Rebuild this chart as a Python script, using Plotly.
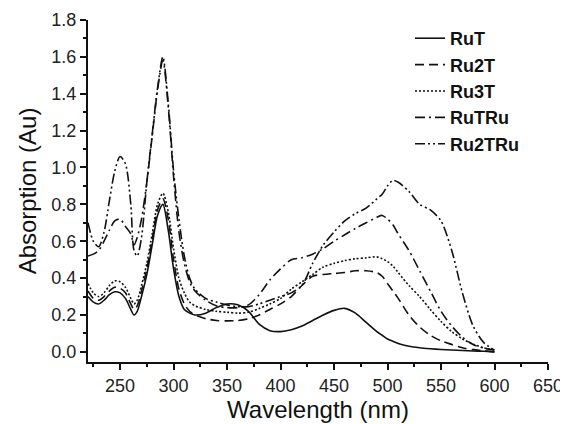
import plotly.graph_objects as go

wavelength = [220, 225, 230, 235, 240, 245, 250, 255, 260, 263, 266, 270, 275, 280, 285,
              290, 295, 300, 305, 310, 315, 320, 330, 340, 350, 360, 370, 380, 390, 400,
              410, 420, 430, 440, 450, 460, 470, 480, 490, 495, 500, 505, 510, 520, 530,
              540, 550, 560, 570, 580, 590, 600]

ruT = [0.30, 0.27, 0.26, 0.28, 0.31, 0.326, 0.32, 0.29, 0.23, 0.20, 0.22, 0.30, 0.42, 0.58, 0.74,
       0.80, 0.66, 0.45, 0.30, 0.23, 0.21, 0.20, 0.21, 0.24, 0.26, 0.255, 0.22, 0.15, 0.115, 0.11,
       0.12, 0.14, 0.17, 0.20, 0.225, 0.236, 0.21, 0.16, 0.11, 0.09, 0.07, 0.057, 0.045, 0.03, 0.022,
       0.017, 0.013, 0.01, 0.007, 0.005, 0.003, 0.0]

ru2T = [0.33, 0.29, 0.28, 0.30, 0.33, 0.35, 0.345, 0.32, 0.26, 0.23, 0.25, 0.33, 0.45, 0.61, 0.77,
        0.83, 0.72, 0.50, 0.34, 0.26, 0.22, 0.20, 0.18, 0.17, 0.168, 0.17, 0.18, 0.20, 0.23, 0.26,
        0.30, 0.36, 0.41, 0.42, 0.425, 0.43, 0.44, 0.44, 0.43, 0.41, 0.37, 0.33, 0.29, 0.20, 0.135,
        0.09, 0.06, 0.04, 0.022, 0.012, 0.006, 0.0]

ru3T = [0.37, 0.32, 0.30, 0.32, 0.36, 0.385, 0.38, 0.35, 0.29, 0.26, 0.28, 0.36, 0.48, 0.64, 0.80,
        0.86, 0.76, 0.56, 0.40, 0.32, 0.27, 0.25, 0.23, 0.22, 0.215, 0.21, 0.215, 0.235, 0.26, 0.29,
        0.34, 0.38, 0.42, 0.46, 0.48, 0.495, 0.505, 0.51, 0.515, 0.505, 0.49, 0.465, 0.43, 0.36, 0.30,
        0.23, 0.165, 0.11, 0.07, 0.042, 0.022, 0.01]

ruTRu = [0.52, 0.53, 0.55, 0.60, 0.66, 0.71, 0.72, 0.68, 0.64, 0.58, 0.62, 0.72, 0.92, 1.17, 1.42,
         1.58, 1.33, 0.95, 0.65, 0.48, 0.38, 0.33, 0.28, 0.25, 0.24, 0.24, 0.255, 0.31, 0.39, 0.45,
         0.50, 0.51, 0.53, 0.56, 0.60, 0.635, 0.67, 0.70, 0.73, 0.74, 0.72, 0.69, 0.64, 0.55, 0.44,
         0.33, 0.22, 0.14, 0.08, 0.04, 0.02, 0.01]

ru2TRu = [0.70, 0.60, 0.57, 0.65, 0.82, 0.98, 1.06, 1.02, 0.80, 0.55, 0.52, 0.62, 0.92, 1.18, 1.43,
          1.60, 1.35, 0.98, 0.72, 0.52, 0.40, 0.34, 0.29, 0.27, 0.255, 0.245, 0.245, 0.26, 0.28, 0.30,
          0.32, 0.36, 0.48, 0.58, 0.65, 0.71, 0.75, 0.78, 0.83, 0.855, 0.90, 0.93, 0.92, 0.87, 0.80,
          0.77, 0.71, 0.55, 0.32, 0.14, 0.05, 0.01]

series_names = ["RuT", "Ru2T", "Ru3T", "RuTRu", "Ru2TRu"]
series_values = [ruT, ru2T, ru3T, ruTRu, ru2TRu]
dash_styles = ["solid", "9px,5px", "2px,2px", "10px,4px,2px,4px", "10px,3px,2px,3px,2px,3px"]

x_ticks = [250, 300, 350, 400, 450, 500, 550, 600, 650]
y_ticks = [0.0, 0.2, 0.4, 0.6, 0.8, 1.0, 1.2, 1.4, 1.6, 1.8]

fig = go.Figure()
for name, vals, dash in zip(series_names, series_values, dash_styles):
    fig.add_trace(go.Scatter(
        x=wavelength, y=vals, name=name, mode="lines",
        line=dict(color="#111111", width=1.6, dash=dash, shape="spline", smoothing=0.8),
    ))

FAM = "Liberation Sans, Arial, sans-serif"
tick_font = dict(family=FAM, size=18, color="#222222")
title_font = dict(family=FAM, size=24, color="#111111")
# the page body adds an 8px margin, so the figure is 8px smaller on each axis
fig.update_layout(
    width=560, height=416,
    margin=dict(l=80, r=20, t=12, b=62),
    paper_bgcolor="white", plot_bgcolor="white",
    showlegend=True,
    legend=dict(x=0.70, y=1.0, xanchor="left", yanchor="top",
                bgcolor="rgba(0,0,0,0)",
                font=dict(family=FAM, size=18, color="#111111", weight="bold"),
                tracegroupgap=0),
    font=tick_font,
)
fig.update_xaxes(
    range=[220, 650], tickvals=x_ticks, ticks="outside", ticklen=6, tickwidth=2,
    showline=True, linewidth=2, linecolor="#111111", tickcolor="#111111",
    showgrid=False, zeroline=False, tickfont=tick_font, automargin=False,
    minor=dict(ticks="outside", ticklen=3, tickwidth=2, dtick=25, tick0=225, tickcolor="#111111", showgrid=False),
    title=dict(text="Wavelength (nm)", font=title_font, standoff=2),
)
fig.update_yaxes(
    range=[-0.055, 1.8], tickvals=y_ticks, tickformat=".1f", ticks="outside", ticklen=6, tickwidth=2,
    showline=True, linewidth=2, linecolor="#111111", tickcolor="#111111",
    showgrid=False, zeroline=False, tickfont=tick_font, automargin=False,
    minor=dict(ticks="outside", ticklen=3, tickwidth=2, dtick=0.1, tick0=0.1, tickcolor="#111111", showgrid=False),
    title=dict(text="Absorption (Au)", font=title_font, standoff=8),
)

fig.write_html("out.html")
